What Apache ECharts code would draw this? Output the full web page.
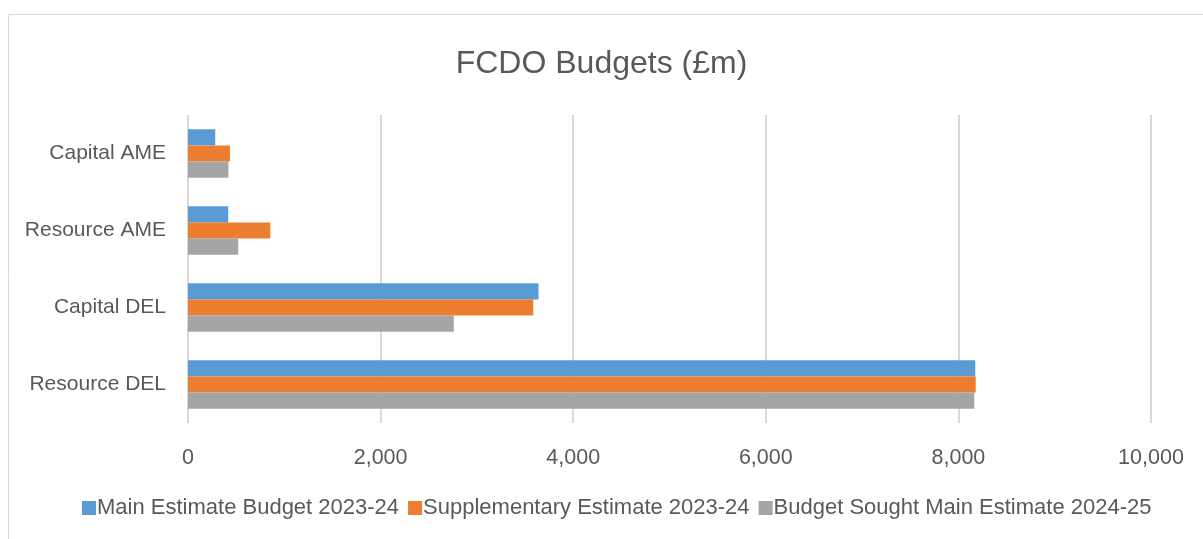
<!DOCTYPE html>
<html><head><meta charset="utf-8">
<script src="https://cdn.jsdelivr.net/npm/echarts@6/dist/echarts.min.js"></script>
<style>html,body{margin:0;padding:0;background:#fff}#c{width:1203px;height:539px}</style>
</head><body><div id="c"></div>
<script>
const categories = ['Resource DEL', 'Capital DEL', 'Resource AME', 'Capital AME'];
const mainEstimate2324 = [8175, 3640, 418, 283];
const supplementary2324 = [8180, 3585, 855, 436];
const budgetSought2425 = [8165, 2760, 522, 420];
const seriesNames = ['Main Estimate Budget 2023-24', 'Supplementary Estimate 2023-24', 'Budget Sought Main Estimate 2024-25'];
const xTicks = {min: 0, max: 10000, interval: 2000};

const chart = echarts.init(document.getElementById('c'));
const font = "'Liberation Sans', sans-serif";
chart.setOption({
  animation: false,
  graphic: [{type: 'rect', shape: {x: 8.5, y: 14.5, width: 1300, height: 600}, style: {fill: 'none', stroke: '#d9d9d9', lineWidth: 1}}],
  title: {text: 'FCDO Budgets (£m)', left: 'center', top: 43, textStyle: {fontFamily: font, fontSize: 32, fontWeight: 'normal', color: '#595959'}},
  color: ['#5B9BD5', '#ED7D31', '#A5A5A5'],
  legend: {bottom: 15, left: 77, itemWidth: 14, itemHeight: 14, itemGap: 9, icon: 'rect',
    textStyle: {fontFamily: font, fontSize: 22, color: '#595959', padding: [0, 0, 0, -4]}},
  grid: {left: 188, right: 52, top: 115, bottom: 116, containLabel: false},
  xAxis: {type: 'value', min: xTicks.min, max: xTicks.max, interval: xTicks.interval,
    axisLine: {show: false}, axisTick: {show: false},
    splitLine: {lineStyle: {color: '#d9d9d9', width: 2}},
    axisLabel: {fontFamily: font, fontSize: 21.5, color: '#595959', margin: 24,
      formatter: v => v.toLocaleString('en-US')}},
  yAxis: {type: 'category', data: categories,
    axisLine: {show: false}, axisTick: {show: false},
    axisLabel: {fontFamily: font, fontSize: 21, color: '#595959', margin: 22}},
  series: [
    {name: seriesNames[0], type: 'bar', data: mainEstimate2324, barGap: '0%', barCategoryGap: '37%'},
    {name: seriesNames[1], type: 'bar', data: supplementary2324, barGap: '0%', barCategoryGap: '37%'},
    {name: seriesNames[2], type: 'bar', data: budgetSought2425, barGap: '0%', barCategoryGap: '37%'}
  ]
});
</script></body></html>
